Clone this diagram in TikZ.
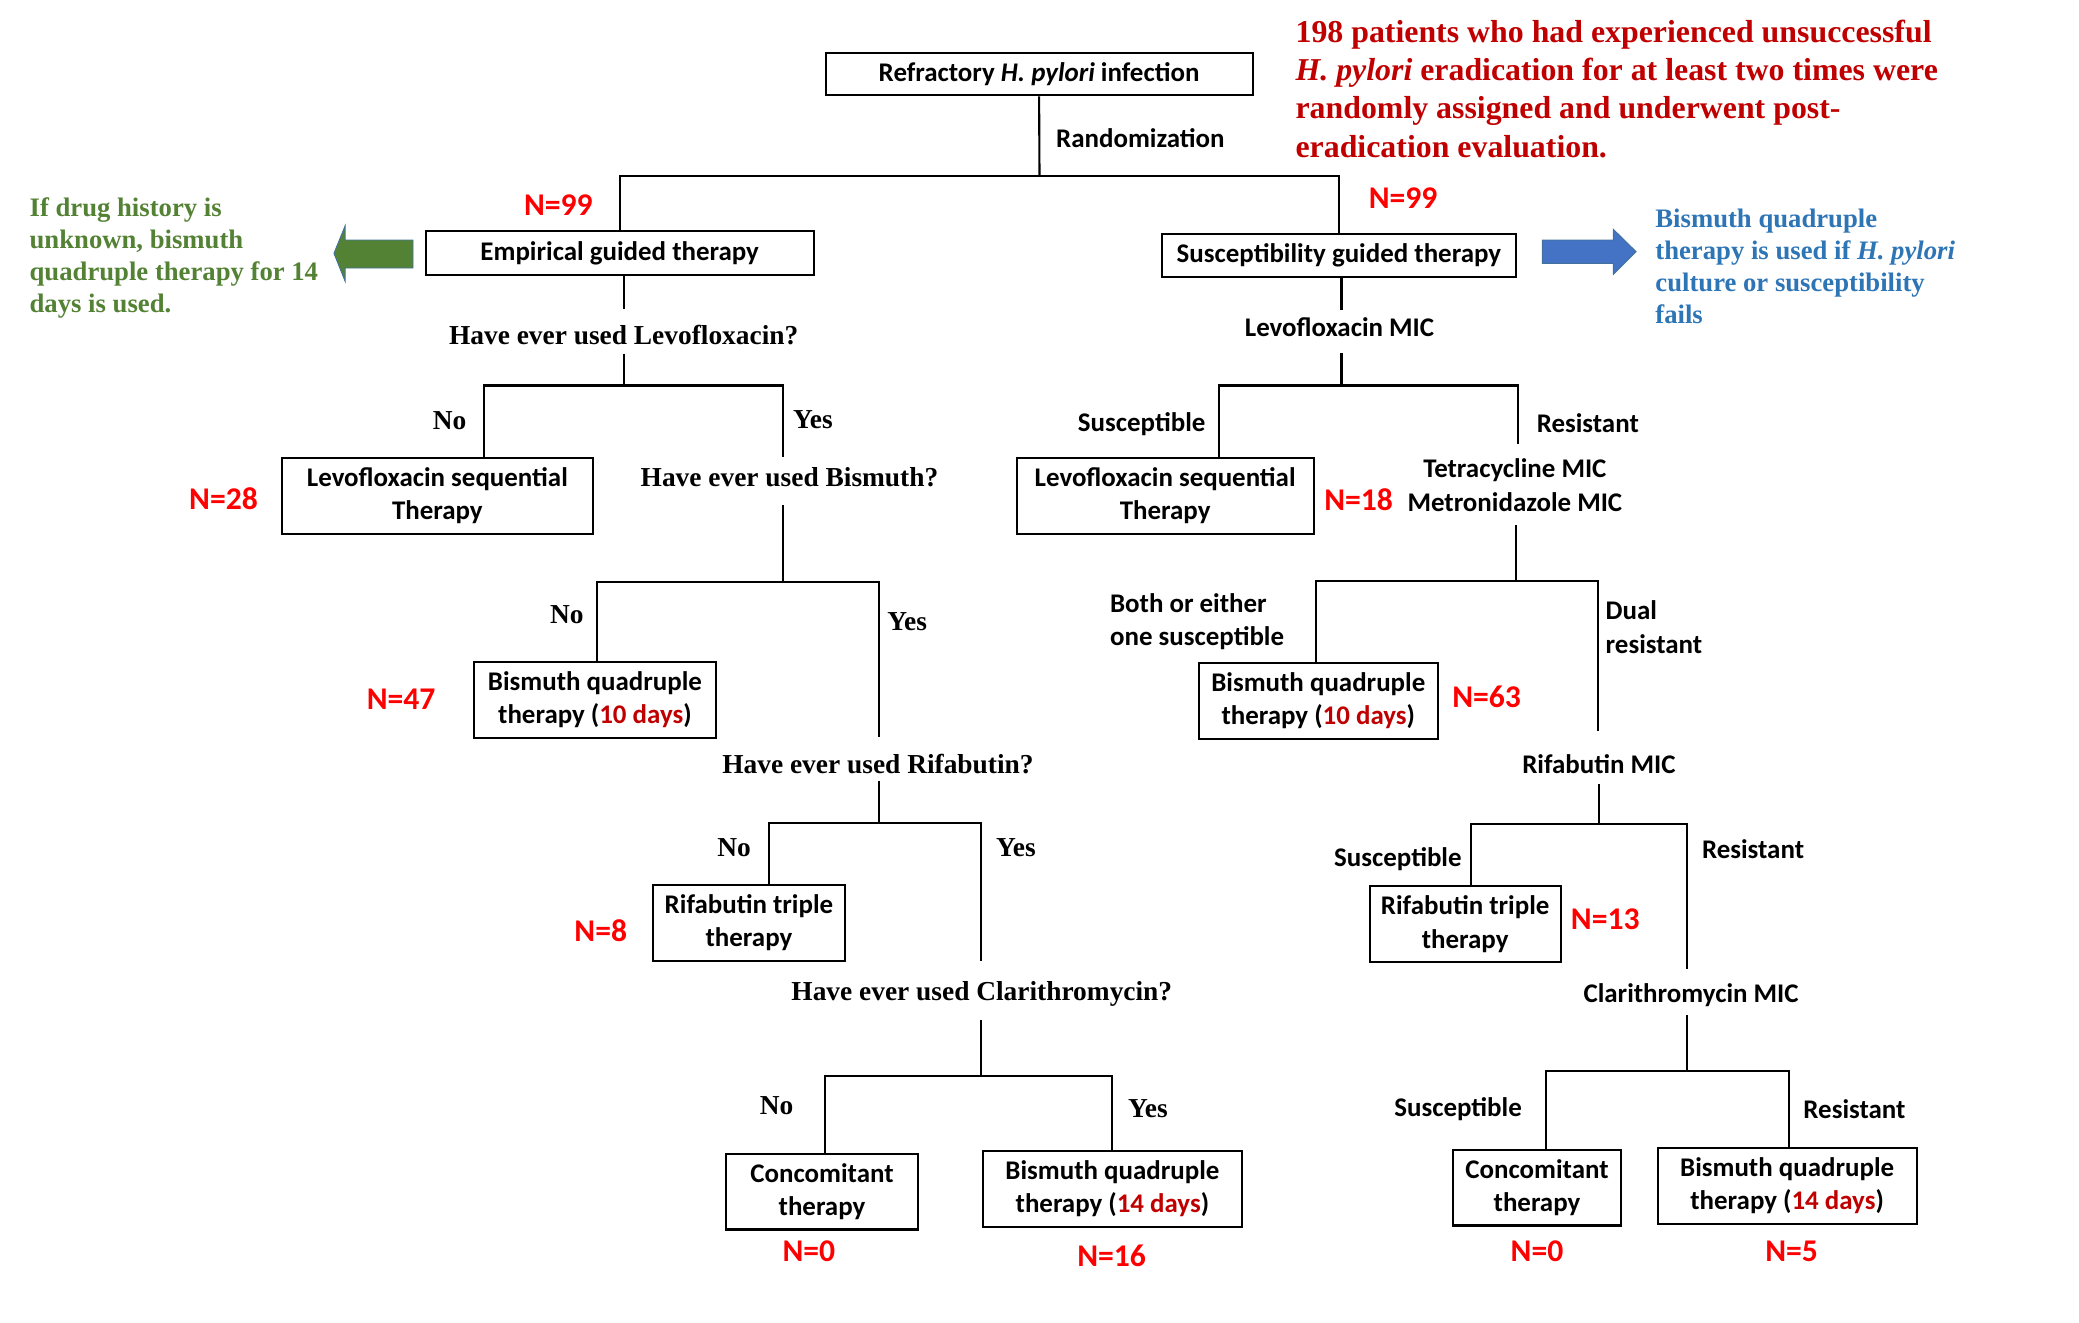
\documentclass[tikz,border=0pt]{standalone}
\usepackage{fontspec}
\setmainfont{Liberation Serif}
\newfontfamily\calib{Carlito}
\definecolor{darkred}{HTML}{C00000}
\definecolor{leafgreen}{HTML}{548235}
\definecolor{noteblue}{HTML}{2E75B6}
\definecolor{arrowblue}{HTML}{4472C4}
\definecolor{edgeblue}{HTML}{41719C}
\newcommand{\dayred}[1]{\textcolor{darkred}{#1}}
\tikzset{
  box/.style={draw, line width=0.9pt, align=center, inner sep=0pt, minimum height=1.14cm,
    font=\calib\bfseries\fontsize{11.5}{14.2}\selectfont},
  lab/.style={align=center, inner sep=0pt, font=\calib\bfseries\fontsize{11.5}{14.2}\selectfont},
  ques/.style={inner sep=0pt, font=\bfseries\fontsize{11.7}{14}\selectfont},
  cnt/.style={inner sep=0pt, text=red, font=\calib\bfseries\fontsize{13.5}{16}\selectfont},
  note/.style={anchor=west, align=left, inner sep=0pt, font=\bfseries\fontsize{11.4}{13.65}\selectfont},
  link/.style={line width=0.9pt}
}

\begin{document}
\begin{tikzpicture}[x=0.02cm, y=-0.02cm]
      \useasboundingbox (0,0) rectangle (1560,992.7);

      % Boxes
      \node[box, minimum width=6.41cm, minimum height=0.64cm] (inf) at (779.7,55.5) {Refractory \textit{H. pylori} infection};
      \node[box, minimum width=5.82cm, minimum height=0.66cm] (emp) at (465,190.1) {Empirical guided therapy};
      \node[box, minimum width=5.31cm, minimum height=0.64cm] (sus) at (1004.6,191.6) {Susceptibility guided therapy};
      \node[box, minimum width=4.67cm] (lsqL) at (328.2,371.9) {Levofloxacin sequential\\Therapy};
      \node[box, minimum width=4.46cm] (lsqR) at (874.3,371.9) {Levofloxacin sequential\\Therapy};
      \node[box, minimum width=3.64cm] (bqL) at (446.4,525.1) {Bismuth quadruple\\therapy (\dayred{10 days})};
      \node[box, minimum width=3.58cm] (bqR) at (989.2,525.9) {Bismuth quadruple\\therapy (\dayred{10 days})};
      \node[box, minimum width=2.88cm] (rifL) at (562,692.6) {Rifabutin triple\\therapy};
      \node[box, minimum width=2.87cm] (rifR) at (1099.4,693.4) {Rifabutin triple\\therapy};
      \node[box, minimum width=2.88cm] (conL) at (616.8,894.1) {Concomitant\\therapy};
      \node[box, minimum width=3.89cm] (bqlL) at (834.7,891.9) {Bismuth quadruple\\therapy (\dayred{14 days})};
      \node[box, minimum width=2.51cm] (conR) at (1153.3,891.1) {Concomitant\\therapy};
      \node[box, minimum width=3.89cm] (bqlR) at (1341,889.8) {Bismuth quadruple\\therapy (\dayred{14 days})};

      % Split points
      \coordinate (j0) at (780,132);
      \coordinate (a1) at (468,231.5);
      \coordinate (b1) at (468,265.3);
      \coordinate (j1) at (468,289.3);
      \coordinate (n1) at (363.3,289.3);
      \coordinate (y1) at (587.7,289.3);
      \coordinate (e1) at (587.7,342.6);
      \coordinate (b2) at (587.7,379);
      \coordinate (j2) at (587.7,436.8);
      \coordinate (n2) at (447.8,436.8);
      \coordinate (y2) at (659.8,436.8);
      \coordinate (e2) at (659.8,553);
      \coordinate (b3) at (659.8,585.7);
      \coordinate (j3) at (659.8,617.4);
      \coordinate (n3) at (577.2,617.4);
      \coordinate (y3) at (736.4,617.4);
      \coordinate (e3) at (736.4,721.1);
      \coordinate (b4) at (736.4,765.6);
      \coordinate (j4) at (736.4,807.4);
      \coordinate (n4) at (619,807.4);
      \coordinate (y4) at (834.1,807.4);
      \coordinate (c1) at (1006.6,232.7);
      \coordinate (d1) at (1006.6,264.7);
      \coordinate (k1) at (1006.6,289.3);
      \coordinate (s1) at (914.6,289.3);
      \coordinate (r1) at (1138.9,289.3);
      \coordinate (f1) at (1138.9,333.2);
      \coordinate (d2) at (1137.4,393.8);
      \coordinate (k2) at (1137.4,435.8);
      \coordinate (s2) at (987.7,435.8);
      \coordinate (r2) at (1199.1,435.8);
      \coordinate (f2) at (1199.1,548.5);
      \coordinate (d3) at (1199.8,588.5);
      \coordinate (k3) at (1199.8,618.3);
      \coordinate (s3) at (1104.1,618.3);
      \coordinate (r3) at (1265.7,618.3);
      \coordinate (f3) at (1265.7,727.2);
      \coordinate (d4) at (1265.7,761.8);
      \coordinate (k4) at (1265.7,803.3);
      \coordinate (s4) at (1160.3,803.3);
      \coordinate (r4) at (1342.2,803.3);

      % Randomization
      \draw[link] (inf.south) -- (j0);
      \draw[link] (emp.north) |- (j0) -| (sus.north);

      % Empirical branch
      \draw[link] (emp.south -| a1) -- (a1);
      \draw[link] (b1) -- (j1);
      \draw[link] (lsqL.north -| n1) -- (n1) -- (y1) -- (e1);
      \draw[link] (b2) -- (j2);
      \draw[link] (bqL.north -| n2) -- (n2) -- (y2) -- (e2);
      \draw[link] (b3) -- (j3);
      \draw[link] (rifL.north -| n3) -- (n3) -- (y3) -- (e3);
      \draw[link] (b4) -- (j4);
      \draw[link] (conL.north -| n4) -- (n4) -- (y4) -- (bqlL.north -| y4);

      % Susceptibility branch
      \draw[link] (sus.south -| c1) -- (c1);
      \draw[link] (d1) -- (k1);
      \draw[link] (lsqR.north -| s1) -- (s1) -- (r1) -- (f1);
      \draw[link] (d2) -- (k2);
      \draw[link] (bqR.north -| s2) -- (s2) -- (r2) -- (f2);
      \draw[link] (d3) -- (k3);
      \draw[link] (rifR.north -| s3) -- (s3) -- (r3) -- (f3);
      \draw[link] (d4) -- (k4);
      \draw[link] (conR.north -| s4) -- (s4) -- (r4) -- (bqlR.north -| r4);

      % Questions
      \node[lab] (rand) at (855.7,103.6) {Randomization};
      \node[ques] (q1) at (468,251.7) {Have ever used Levofloxacin?};
      \node[ques] (q1n) at (337.4,315.8) {No};
      \node[ques] (q1y) at (610,314.9) {Yes};
      \node[ques] (q2) at (592.4,358.4) {Have ever used Bismuth?};
      \node[ques] (q2n) at (425.4,461.1) {No};
      \node[ques] (q2y) at (680.7,466.8) {Yes};
      \node[ques] (q3) at (658.8,573.6) {Have ever used Rifabutin?};
      \node[ques] (q3n) at (550.8,636.4) {No};
      \node[ques] (q3y) at (762.3,636.4) {Yes};
      \node[ques] (q4) at (736.7,745.9) {Have ever used Clarithromycin?};
      \node[ques] (q4n) at (582.7,829.3) {No};
      \node[ques] (q4y) at (861.4,832.1) {Yes};

      % MIC tests
      \node[lab] (m1) at (1005.1,245.7) {Levofloxacin MIC};
      \node[lab] (m1s) at (856.7,318.3) {Susceptible};
      \node[lab] (m1r) at (1191.4,317.4) {Resistant};
      \node[lab] (m2) at (1136.7,364) {Tetracycline MIC\\Metronidazole MIC};
      \node[lab, anchor=west, align=left] (m2s) at (832.6,466.2) {Both or either\\one susceptible};
      \node[lab, anchor=west, align=left] (m2r) at (1204.5,470.6) {Dual\\resistant};
      \node[lab] (m3) at (1199.8,573) {Rifabutin MIC};
      \node[lab] (m3s) at (1048.9,645) {Susceptible};
      \node[lab] (m3r) at (1315.4,637.4) {Resistant};
      \node[lab] (m4) at (1268.9,746.5) {Clarithromycin MIC};
      \node[lab] (m4s) at (1094.1,832.1) {Susceptible};
      \node[lab] (m4r) at (1391.5,832.1) {Resistant};

      % Patient counts
      \node[cnt] (nE) at (419,153.8) {N=99};
      \node[cnt] (nS) at (1052.9,148.4) {N=99};
      \node[cnt] (nL1) at (167.7,374.2) {N=28};
      \node[cnt] (nL2) at (301,524.4) {N=47};
      \node[cnt] (nL3) at (450.8,698.3) {N=8};
      \node[cnt] (nL4) at (607,938.8) {N=0};
      \node[cnt] (nL5) at (834.1,942.6) {N=16};
      \node[cnt] (nR1) at (1019.5,374.8) {N=18};
      \node[cnt] (nR2) at (1115.5,523.2) {N=63};
      \node[cnt] (nR3) at (1204.5,689.4) {N=13};
      \node[cnt] (nR4) at (1153.3,938.8) {N=0};
      \node[cnt] (nR5) at (1344.3,938.8) {N=5};

      % Notes and arrows
      \node[note, text=darkred, font=\bfseries\fontsize{13.6}{16.3}\selectfont] (aim) at (971.8,66.7)
        {198 patients who had experienced unsuccessful\\\textit{H. pylori} eradication for at least two times were\\randomly assigned and underwent post-\\eradication evaluation.};
      \node[note, text=leafgreen] (gnote) at (21.9,193.5) {If drug history is\\unknown, bismuth\\quadruple therapy for 14\\days is used.};
      \node[note, text=noteblue] (bnote) at (1241.8,200.2) {Bismuth quadruple\\therapy is used if \textit{H. pylori}\\culture or susceptibility\\fails};
      \filldraw[fill=leafgreen, draw=edgeblue, line width=0.4pt] (250.6,190.1) -- (258.9,169.6) -- (258.9,180.1) -- (309.9,180.1)
        -- (309.9,201.1) -- (258.9,201.1) -- (258.9,210.9) -- cycle;
      \filldraw[fill=arrowblue, draw=edgeblue, line width=0.4pt] (1157.3,180.1) -- (1210.6,180.1) -- (1210.6,172.1) -- (1227.6,188.8)
        -- (1210.6,205.8) -- (1210.6,197.6) -- (1157.3,197.6) -- cycle;
  \end{tikzpicture}
\end{document}
